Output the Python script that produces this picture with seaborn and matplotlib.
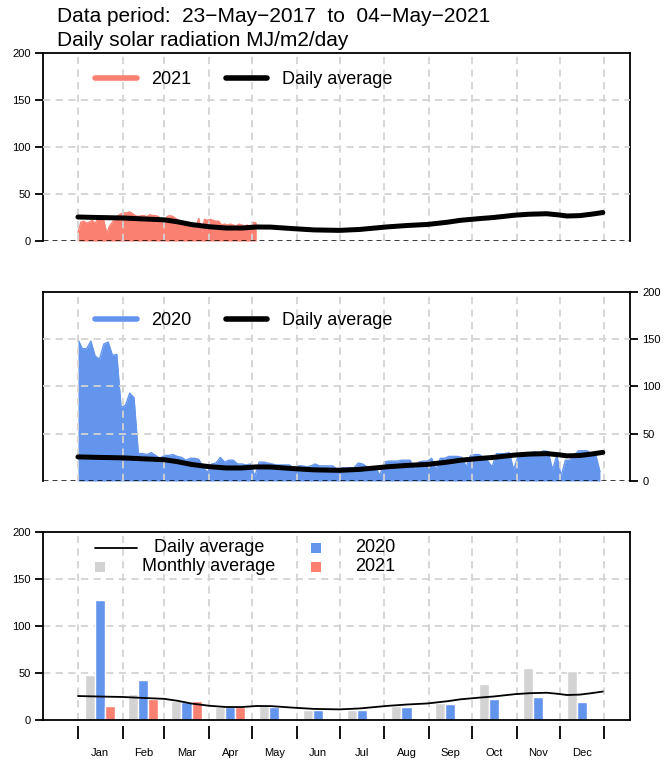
import numpy as np
import matplotlib
matplotlib.use("Agg")
import matplotlib.pyplot as plt
import seaborn as sns
from matplotlib.lines import Line2D

# month boundaries as day of year (leap year) and labels
month_starts = [1, 32, 61, 92, 122, 153, 183, 214, 245, 275, 306, 336, 367]
month_labels = ['Jan', 'Feb', 'Mar', 'Apr', 'May', 'Jun',
                'Jul', 'Aug', 'Sep', 'Oct', 'Nov', 'Dec']

# long term daily average (smoothed), read at selected days
avg_days = [1, 15, 32, 46, 61, 70, 80, 92, 104, 115, 125, 135, 150, 165, 183, 197,
            216, 230, 244, 258, 267, 280, 290, 305, 315, 327, 335, 341, 350, 358, 366]
avg_vals = [25.5, 25, 24.5, 23.5, 22.5, 20.5, 17.5, 15.2, 13.8, 13.8, 14.9, 14.8, 13.2,
            11.8, 11.3, 12.3, 15, 16.5, 17.6, 20, 22, 23.8, 25, 27.5, 28.5, 29, 27.8,
            26.6, 27, 28.5, 30.3]

# 2021 daily radiation, every 2nd day from 1 Jan
rad_2021 = [9, 20, 21, 19, 20, 22, 18, 26, 23, 22, 8, 16, 20, 24, 27, 29, 30, 30, 31, 29,
            27, 26, 27, 27, 26, 28, 27, 27, 26, 22, 19, 26, 27, 26, 24, 22, 20, 20, 20, 19,
            18, 15, 24, 9, 23, 22, 23, 22, 21, 21, 17, 18, 17, 18, 17, 16, 18, 17, 16, 17,
            12, 20, 19]
days_2021 = np.arange(1, 1 + 2 * len(rad_2021), 2)

# 2020 daily radiation, every 3rd day from 1 Jan
rad_2020 = [150, 140, 140, 148, 132, 129, 145, 147, 133, 134,
            78, 80, 93, 88,
            29,
            29, 28, 30, 27, 24, 27, 27, 28, 26, 25, 22,
            24, 24, 23, 15, 9, 18, 19, 25, 20, 22, 22,
            18, 18, 17, 18, 5, 20, 20, 19, 18, 17, 17,
            17, 17, 14, 16, 16, 15, 16, 18, 16, 16, 16,
            16, 13, 14, 14, 14, 14, 19, 18, 15, 15, 14,
            6, 20, 21, 21, 21, 22, 22, 22, 13, 20, 21,
            21, 24, 12, 24, 24, 26, 26, 26, 25, 15, 27,
            28, 28, 25, 21, 15, 29, 29, 29, 30, 12, 26,
            30, 30, 30, 31, 30, 32, 31, 12, 27, 5, 22,
            22, 27, 32, 32, 32, 29, 28, 10]
days_2020 = np.arange(1, 1 + 3 * len(rad_2020), 3)

# monthly means
monthly_avg = [48, 28, 20, 14, 15, 11, 11, 15, 18, 38, 55, 52]
monthly_2020 = [128, 43, 19, 14, 13.5, 10.5, 10.5, 13.5, 17, 22, 24.5, 19.5]
monthly_2021 = [15, 22, 20, 14]

RED = '#FA8072'
BLUE = '#6495ED'
GREY = '#D3D3D3'

sns.set_theme(style="white")
plt.rcParams['font.family'] = ['Liberation Sans', 'DejaVu Sans']
plt.rcParams['text.color'] = 'black'
plt.rcParams['xtick.color'] = 'black'
plt.rcParams['ytick.color'] = 'black'
plt.rcParams['axes.labelcolor'] = 'black'

W, H = 670, 761
fig = plt.figure(figsize=(W / 100, H / 100), dpi=100)


def add_ax(top, bottom):
    return fig.add_axes([43 / W, 1 - bottom / H, 587 / W, (bottom - top) / H])


def style(ax, grid_z=3):
    ax.set_xlim(-23.3, 384.9)
    ax.set_ylim(0, 200)
    ax.set_facecolor('white')
    for s in ax.spines.values():
        s.set_color('black')
        s.set_linewidth(1.3)
    for d in month_starts:
        ax.axvline(d, color=GREY, lw=1.3, ls=(0, (4, 3)), zorder=grid_z)
    for v in [50, 100, 150]:
        ax.axhline(v, color=GREY, lw=1.3, ls=(0, (4, 3)), zorder=grid_z)
    ax.set_yticks([0, 50, 100, 150, 200])
    ax.tick_params(axis='y', labelsize=8, length=6, width=1.3, color='black',
                   labelcolor='black', direction='out', pad=3)
    ax.tick_params(axis='x', bottom=False, labelbottom=False)
    ax.set_xlabel('')
    ax.set_ylabel('')


mids = [(a + b) / 2 for a, b in zip(month_starts[:-1], month_starts[1:])]

# ---- top panel: 2021
ax1 = add_ax(53, 241)
style(ax1)
ax1.spines['bottom'].set_visible(False)
ax1.tick_params(axis='y', left=True, right=False)
ax1.fill_between(days_2021, rad_2021, color=RED, lw=0, zorder=2)
sns.lineplot(x=days_2021, y=rad_2021, ax=ax1, color=RED, lw=1, zorder=2)
ax1.axhline(0, color='black', lw=1.8, ls=(0, (2, 1.6)), zorder=4)
sns.lineplot(x=avg_days, y=avg_vals, ax=ax1, color='black', lw=3.6, zorder=5)
handles = [Line2D([], [], color=RED, lw=4), Line2D([], [], color='black', lw=4)]
ax1.legend(handles, ['2021', 'Daily average'], ncol=2, frameon=False,
           loc='center left', bbox_to_anchor=(0.089, 0.857), borderpad=0,
           borderaxespad=0, handlelength=2.3, handletextpad=0.8,
           columnspacing=1.9, fontsize=13)

# ---- middle panel: 2020
ax2 = add_ax(292, 481)
style(ax2)
ax2.spines['bottom'].set_visible(False)
ax2.yaxis.tick_right()
ax2.tick_params(axis='y', left=False, right=True, labelleft=False, labelright=True)
ax2.fill_between(days_2020, rad_2020, color=BLUE, lw=0, zorder=2)
sns.lineplot(x=days_2020, y=rad_2020, ax=ax2, color=BLUE, lw=1, zorder=2)
ax2.axhline(0, color='black', lw=1.8, ls=(0, (2, 1.6)), zorder=4)
sns.lineplot(x=avg_days, y=avg_vals, ax=ax2, color='black', lw=3.6, zorder=5)
handles = [Line2D([], [], color=BLUE, lw=4), Line2D([], [], color='black', lw=4)]
ax2.legend(handles, ['2020', 'Daily average'], ncol=2, frameon=False,
           loc='center left', bbox_to_anchor=(0.089, 0.847), borderpad=0,
           borderaxespad=0, handlelength=2.3, handletextpad=0.8,
           columnspacing=1.9, fontsize=13)

# ---- bottom panel: monthly bars
ax3 = add_ax(532, 720)
style(ax3, grid_z=1)
ax3.tick_params(axis='y', left=True, right=False)
ax3.bar([m - 7 for m in mids], monthly_avg, width=7, color=GREY, zorder=2)
ax3.bar(mids, monthly_2020, width=7, color=BLUE, zorder=2)
ax3.bar([m + 7 for m in mids[:len(monthly_2021)]], monthly_2021, width=7,
        color=RED, zorder=2)
sns.lineplot(x=avg_days, y=avg_vals, ax=ax3, color='black', lw=1.3, zorder=6)
ax3.axhline(0, color='black', lw=1.3, zorder=7, clip_on=False)
ax3.spines['bottom'].set_position(('outward', 4))
ax3.spines['bottom'].set_visible(False)
ax3.set_xticks(month_starts)
ax3.set_xticklabels([''] * len(month_starts))
ax3.set_xticks(mids, minor=True)
ax3.set_xticklabels(month_labels, minor=True)
ax3.tick_params(axis='x', which='major', bottom=True, length=9, width=1.3,
                color='black', direction='out')
ax3.tick_params(axis='x', which='minor', bottom=True, labelbottom=True,
                length=0, pad=16, labelsize=8, labelcolor='black')

# legend of bottom panel
tr = ax3.transAxes
ax3.plot([0.089, 0.160], [0.916, 0.916], transform=tr, color='black', lw=1.3)
ax3.text(0.283, 0.916, 'Daily average', transform=tr, ha='center', va='center', fontsize=13)
ax3.scatter([0.097], [0.814], transform=tr, marker='s', s=45, color=GREY, lw=0)
ax3.text(0.282, 0.814, 'Monthly average', transform=tr, ha='center', va='center', fontsize=13)
ax3.scatter([0.465], [0.916], transform=tr, marker='s', s=45, color=BLUE, lw=0)
ax3.text(0.566, 0.916, '2020', transform=tr, ha='center', va='center', fontsize=13)
ax3.scatter([0.465], [0.814], transform=tr, marker='s', s=45, color=RED, lw=0)
ax3.text(0.566, 0.814, '2021', transform=tr, ha='center', va='center', fontsize=13)

# titles
fig.text(57 / W, 1 - 17 / H, 'Data period:  23\u2212May\u22122017  to  04\u2212May\u22122021',
         fontsize=15, va='center', ha='left')
fig.text(57 / W, 1 - 40 / H, 'Daily solar radiation MJ/m2/day',
         fontsize=15, va='center', ha='left')

fig.savefig('out.png', dpi=100)
